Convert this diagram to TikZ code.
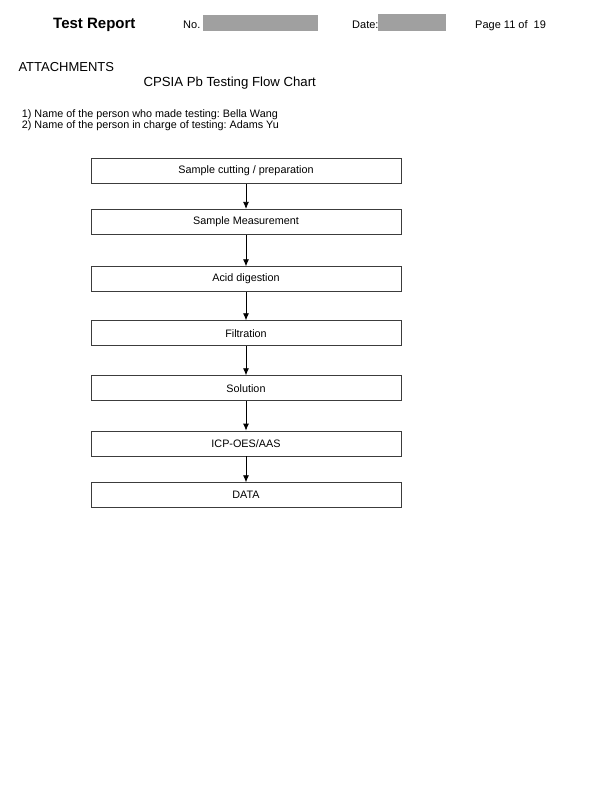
\documentclass[tikz,border=0pt]{standalone}
\usepackage{fontspec}
\setmainfont{Liberation Sans}
\usetikzlibrary{arrows.meta}
\definecolor{redact}{RGB}{160,160,160}
\definecolor{boxline}{RGB}{60,60,60}
\frenchspacing
\begin{document}
\begin{tikzpicture}[x=1pt,y=-1pt,
    stepbox/.style={draw=boxline, line width=0.8pt, minimum width=310pt, minimum height=25pt, inner sep=0pt, font=\fontsize{10.8}{12}\selectfont},
    flow/.style={-{Latex[length=7pt,width=6pt]}, line width=0.8pt},
    txt/.style={anchor=base west, inner sep=0pt}]
    \useasboundingbox[fill=white] (0,0) rectangle (600,808);

    %header
    \node[txt, font=\bfseries\fontsize{15}{18}\selectfont] (report) at (53,28.5) {Test Report};
    \node[txt, font=\fontsize{11}{13}\selectfont] (no) at (183,29) {No.};
    \fill[redact] (203,15) rectangle (318,31);
    \node[txt, font=\fontsize{11}{13}\selectfont] (date) at (352,29) {Date:};
    \fill[redact] (378,14) rectangle (446,31);
    \node[txt, font=\fontsize{11}{13}\selectfont] (page) at (475,29) {Page 11 of\ \ 19};

    %heading
    \node[txt, font=\fontsize{13}{15}\selectfont] (attach) at (18.3,71.7) {ATTACHMENTS};
    \node[txt, font=\fontsize{13.2}{15}\selectfont] (chart) at (143.3,86.7) {CPSIA Pb Testing Flow Chart};

    %names
    \node[txt, font=\fontsize{10.8}{12}\selectfont] (tester) at (21.7,117.3) {1) Name of the person who made testing: Bella Wang};
    \node[txt, font=\fontsize{10.8}{12}\selectfont] (charge) at (21.7,128.3) {2) Name of the person in charge of testing: Adams Yu};

    %boxes
    \node[stepbox] (cut) at (246,170.8) {Sample cutting / preparation};
    \node[stepbox] (measure) at (246,221.8) {Sample Measurement};
    \node[stepbox] (digest) at (246,279.2) {Acid digestion};
    \node[stepbox] (filter) at (246,333.2) {Filtration};
    \node[stepbox] (solution) at (246,388.2) {Solution};
    \node[stepbox] (icp) at (246,443.5) {ICP-OES/AAS};
    \node[stepbox] (data) at (246,495.2) {DATA};

    %arrows
    \foreach \a/\b in {cut/measure, measure/digest, digest/filter, filter/solution, solution/icp, icp/data}
        \draw[flow] (\a) -- (\b);
\end{tikzpicture}
\end{document}
